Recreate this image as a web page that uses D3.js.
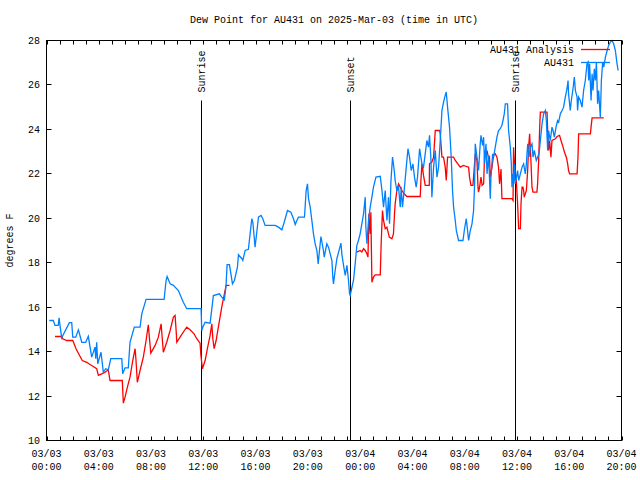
<!DOCTYPE html>
<html><head><meta charset="utf-8">
<script src="https://cdn.jsdelivr.net/npm/d3@7"></script>
<style>
body{margin:0;background:#fff}
text{font-family:"Liberation Mono","DejaVu Sans Mono",monospace;font-size:10px;fill:#000}
</style>
</head><body>
<svg id="chart" width="640" height="480"></svg>
<script>
const chartTitle = "Dew Point for AU431 on 2025-Mar-03 (time in UTC)";
const yAxisLabel = "degrees F";
const startTime = "2025-03-03T00:00:00Z";
const spanHours = 44;
const yTicks = [10, 12, 14, 16, 18, 20, 22, 24, 26, 28];
const seriesNames = ["AU431 Analysis", "AU431"];
const seriesColors = ["#ff0000", "#0080ff"];
const eventLabels = ["Sunrise", "Sunset", "Sunrise"];
const eventHours = [11.83, 23.19, 35.82];

// AU431 Analysis (hours since start, °F); null marks the data gap
const analysisHours = [
0.65,1.16,1.24,1.55,2.01,2.11,2.26,2.49,2.74,3.08,
3.33,3.58,3.84,3.97,4.23,4.48,4.73,4.86,5.80,5.88,
6.01,6.19,6.39,6.60,6.78,6.85,6.95,7.16,7.41,7.62,
7.79,7.87,7.98,8.31,8.56,8.77,8.87,8.94,9.20,9.46,
9.71,9.84,9.92,9.97,10.22,10.55,10.73,10.99,11.29,11.50,
11.75,11.81,11.93,12.14,12.31,12.52,12.65,12.73,12.83,12.98,
13.15,13.28,13.41,13.54,13.67,13.74,14.00,
18.00,
23.75,24.00,24.13,24.26,24.39,24.52,24.60,24.67,24.77,24.82,
24.90,25.02,25.15,25.54,25.61,25.71,25.79,25.92,26.05,26.23,
26.43,26.55,26.63,26.68,26.81,26.94,27.20,27.37,27.58,28.60,
28.65,28.73,28.85,28.98,29.29,29.31,29.49,29.62,29.75,30.08,
30.13,30.26,30.38,30.51,30.59,30.69,31.15,31.28,31.66,31.91,
32.12,32.30,32.37,32.48,32.63,32.68,32.81,32.94,33.02,33.06,
33.14,33.25,33.33,33.45,33.52,33.63,33.71,33.83,33.90,33.96,
34.09,34.21,34.34,34.47,34.59,34.67,34.78,34.85,35.62,35.70,
35.74,35.80,35.87,35.95,36.05,36.13,36.26,36.31,36.39,36.46,
36.51,36.56,36.72,36.82,36.89,36.97,37.08,37.15,37.23,37.53,
37.58,37.66,37.74,37.79,38.30,38.35,38.42,38.50,38.60,38.68,
38.94,39.07,39.26,39.37,39.53,39.63,39.78,39.88,39.95,40.03,
40.60,40.67,40.72,41.62,41.67,41.75,42.64];
const analysisValues = [
14.68,14.68,14.58,14.50,14.50,14.35,14.13,13.87,13.60,13.52,
13.42,13.33,13.23,12.93,13.00,13.07,13.18,12.70,12.70,11.68,
11.95,12.40,12.85,13.60,14.13,13.60,12.62,13.15,13.75,14.50,
15.21,14.65,13.93,14.28,14.65,15.25,14.50,13.97,14.42,14.95,
15.55,15.63,14.95,14.42,14.65,14.95,15.10,14.98,14.80,14.58,
14.38,13.87,13.23,13.60,14.13,14.73,15.25,14.58,14.13,14.50,
15.10,15.55,16.00,16.38,16.75,16.98,16.98,
null,
18.48,18.55,18.48,18.63,18.55,18.40,18.25,20.20,19.30,20.27,
17.12,17.35,17.45,17.45,18.88,20.35,19.90,19.53,19.60,19.15,
19.08,19.30,20.20,20.65,21.25,21.55,21.25,21.10,20.98,20.98,
21.70,22.45,21.93,21.48,21.48,22.45,22.53,22.75,23.95,23.95,
23.80,22.75,22.75,22.30,21.70,22.75,22.75,22.60,22.30,22.38,
22.33,22.30,21.85,21.48,21.48,21.85,22.90,22.60,21.40,21.18,
21.40,21.85,21.48,21.55,22.83,22.90,23.05,22.68,22.75,21.85,
22.30,22.83,22.90,22.75,22.30,21.55,22.22,20.88,20.88,20.80,
23.20,22.60,22.15,21.70,20.65,19.53,19.53,20.65,21.40,21.40,
21.25,20.95,21.25,22.15,23.20,23.80,22.45,21.40,21.18,21.18,
21.55,22.60,24.10,24.78,24.78,23.95,23.05,23.50,22.75,23.50,
23.58,23.68,23.73,23.50,23.20,22.98,22.75,22.45,22.15,22.00,
22.00,22.75,23.80,23.80,24.10,24.52,24.52];

// AU431 observations (hours since start, °F)
const obsHours = [
0.21,0.52,0.65,0.90,0.96,1.16,1.75,1.93,2.01,2.24,
2.44,2.70,3.00,3.20,3.46,3.71,3.77,3.84,3.92,4.17,
4.35,4.53,4.73,4.92,5.76,5.83,6.01,6.26,6.39,6.72,
7.16,7.29,7.62,9.00,9.15,9.23,9.46,9.71,10.09,10.47,
10.73,11.83,11.88,11.98,12.14,12.52,12.77,13.23,13.41,13.61,
13.74,13.82,14.00,14.23,14.38,14.61,14.69,14.95,15.02,15.20,
15.45,15.58,15.71,15.79,15.96,16.09,16.22,16.42,16.55,16.73,
17.50,17.75,18.01,18.19,18.44,18.70,18.90,19.03,19.16,19.28,
19.74,19.87,19.97,20.05,20.18,20.43,20.56,20.69,20.79,20.89,
21.00,21.19,21.25,21.45,21.58,21.84,21.91,21.96,22.09,22.22,
22.53,22.60,22.73,22.86,22.99,23.11,23.19,23.24,23.32,23.49,
23.62,23.75,23.87,24.00,24.13,24.26,24.39,24.44,24.52,24.64,
24.77,24.90,25.02,25.21,25.54,25.67,25.79,25.92,26.05,26.17,
26.25,26.36,26.48,26.61,26.68,26.81,26.94,27.07,27.14,27.24,
27.37,27.53,27.66,27.78,27.91,28.04,28.16,28.29,28.39,28.55,
28.65,28.73,28.85,28.98,29.11,29.23,29.31,29.42,29.49,29.62,
29.75,29.88,30.00,30.13,30.26,30.38,30.51,30.59,30.69,30.84,
30.97,31.07,31.15,31.28,31.36,31.53,31.87,31.97,32.12,32.22,
32.30,32.43,32.56,32.68,32.76,32.81,32.94,33.06,33.19,33.25,
33.37,33.45,33.52,33.63,33.71,33.83,33.96,34.01,34.14,34.21,
34.34,34.47,34.59,34.72,34.85,34.93,35.03,35.11,35.28,35.36,
35.49,35.57,35.62,35.70,35.74,35.80,35.85,35.95,36.05,36.13,
36.26,36.39,36.51,36.64,36.72,36.82,36.92,37.02,37.15,37.23,
37.33,37.48,37.58,37.69,37.79,37.92,38.04,38.17,38.25,38.35,
38.42,38.55,38.68,38.76,38.86,38.99,39.11,39.19,39.32,39.45,
39.57,39.70,39.83,39.91,39.95,40.08,40.16,40.29,40.39,40.47,
40.60,40.64,40.72,40.85,40.98,41.10,41.23,41.36,41.44,41.49,
41.56,41.67,41.75,41.82,41.92,42.00,42.08,42.17,42.25,42.38,
42.46,42.56,42.64,42.77,42.90,43.02,43.15,43.28,43.40,43.53,
43.66,43.74];
const obsValues = [
15.40,15.40,15.18,15.18,15.52,14.62,15.30,15.30,14.65,14.65,
14.98,14.42,14.42,14.69,13.75,14.20,13.68,14.42,13.45,13.97,
13.07,13.23,13.18,13.68,13.68,13.00,13.27,13.27,14.42,15.10,
15.10,15.70,16.35,16.35,17.20,17.38,17.05,16.98,16.75,16.22,
15.93,15.93,14.95,15.13,15.32,15.28,16.52,16.60,16.45,16.33,
16.98,17.91,17.91,17.05,17.20,17.80,18.36,18.18,18.10,18.55,
18.60,19.30,19.98,19.82,18.70,19.37,20.05,20.13,19.98,19.68,
19.68,19.60,19.48,19.82,20.35,20.27,19.98,19.72,19.90,20.05,
20.05,21.25,21.55,20.88,20.50,19.30,18.85,18.55,17.95,18.55,
19.18,18.55,18.25,18.85,18.70,18.10,17.35,17.05,17.65,18.18,
18.88,18.40,17.88,17.43,17.88,17.20,16.60,16.53,16.75,17.20,
17.95,18.78,19.00,19.30,19.75,20.20,20.95,19.60,18.85,19.90,
20.50,20.95,21.40,21.85,21.89,21.25,20.50,21.25,19.90,20.95,
19.75,21.70,22.75,22.15,21.70,21.25,21.40,20.50,21.40,20.50,
21.25,22.30,23.13,22.75,22.15,22.45,21.85,21.40,21.85,23.13,
22.75,22.45,22.30,22.90,23.50,23.20,23.73,22.60,20.95,22.30,
23.05,21.85,22.30,23.50,24.85,25.22,25.53,25.68,25.00,24.10,
22.75,21.25,20.50,19.90,19.45,19.00,19.00,19.45,19.98,19.45,
19.00,19.45,19.75,20.35,21.55,23.35,22.75,22.15,23.35,23.73,
23.28,23.65,22.45,23.35,22.00,22.83,20.88,21.85,22.90,22.75,
23.20,23.65,23.95,24.03,24.18,24.40,24.70,25.15,25.15,23.95,
23.20,22.45,21.40,22.00,21.70,22.45,21.55,21.78,22.15,21.70,
22.00,22.30,22.45,22.00,22.45,23.35,22.75,23.20,23.35,22.75,
23.05,22.60,22.75,22.90,23.50,24.25,24.70,24.85,24.40,23.05,
23.95,23.50,24.10,23.95,23.65,24.10,24.40,24.33,24.70,24.85,
25.00,25.45,25.83,26.20,25.60,24.85,25.30,25.83,26.35,25.75,
25.45,24.85,25.45,25.30,25.00,25.75,26.20,26.95,27.03,26.20,
26.95,25.30,26.50,25.75,26.73,26.20,27.03,25.15,25.75,24.55,
26.20,27.03,26.80,27.25,27.55,27.78,27.93,28.00,27.85,27.55,
26.95,26.65];

const svg = d3.select("#chart");
const t0 = new Date(startTime);
const toDate = h => new Date(t0.getTime() + h * 3600e3);
const tEnd = toDate(spanHours);

const pLeft = 46.5, pRight = 621.5, pTop = 40.5, pBottom = 440.5;
const x = d3.scaleUtc().domain([t0, tEnd]).range([pLeft, pRight]);
const y = d3.scaleLinear().domain([yTicks[0], yTicks[yTicks.length - 1]]).range([pBottom, pTop]);

// title
svg.append("text").attr("x", (pLeft + pRight) / 2).attr("y", 23)
  .attr("text-anchor", "middle").text(chartTitle);

// y label
svg.append("text").attr("transform", `translate(13,${(pTop + pBottom) / 2}) rotate(-90)`)
  .attr("text-anchor", "middle").text(yAxisLabel);

const g = svg.append("g");

// x ticks (hourly, bottom and top)
const hourTicks = x.ticks(d3.utcHour.every(1));
const px = d => Math.round(x(d)) + 0.5;
g.selectAll(".xtb").data(hourTicks).enter().append("line")
  .attr("x1", px).attr("x2", px)
  .attr("y1", pBottom).attr("y2", pBottom - 4).attr("stroke", "#000");
g.selectAll(".xtt").data(hourTicks).enter().append("line")
  .attr("x1", px).attr("x2", px)
  .attr("y1", pTop).attr("y2", pTop + 4).attr("stroke", "#000");

// x labels every 4 hours
const labelTicks = x.ticks(d3.utcHour.every(4));
const fDay = d3.utcFormat("%m/%d"), fTime = d3.utcFormat("%H:%M");
const xl = g.selectAll(".xl").data(labelTicks).enter().append("text")
  .attr("text-anchor", "middle");
xl.append("tspan").attr("x", d => x(d)).attr("y", 457).text(d => fDay(d));
xl.append("tspan").attr("x", d => x(d)).attr("y", 470).text(d => fTime(d));

// y ticks + labels
const py = d => Math.round(y(d) - 0.5) + 0.5;
g.selectAll(".ytl").data(yTicks).enter().append("line")
  .attr("x1", pLeft).attr("x2", pLeft + 5)
  .attr("y1", py).attr("y2", py).attr("stroke", "#000");
g.selectAll(".ytr").data(yTicks).enter().append("line")
  .attr("x1", pRight).attr("x2", pRight - 5)
  .attr("y1", py).attr("y2", py).attr("stroke", "#000");
g.selectAll(".yl").data(yTicks).enter().append("text")
  .attr("x", 40).attr("y", d => y(d)).attr("dy", "0.35em")
  .attr("text-anchor", "end").text(d => d);

// event lines (graph 0 to graph 0.85) and labels
const yFrac = f => pBottom + (pTop - pBottom) * f;
eventHours.forEach((h, i) => {
  const xp = Math.round(x(toDate(h))) + 0.5;
  g.append("line").attr("x1", xp).attr("x2", xp)
    .attr("y1", pBottom).attr("y2", yFrac(0.85)).attr("stroke", "#000").attr("stroke-width", 1);
  g.append("text").attr("transform", `translate(${xp},${yFrac(0.87)}) rotate(-90)`)
    .attr("dy", "0.35em").attr("text-anchor", "start").text(eventLabels[i]);
});

// series
const analysis = analysisHours.map((h, i) => ({ t: toDate(h), v: analysisValues[i] }));
const obs = obsHours.map((h, i) => ({ t: toDate(h), v: obsValues[i] }));
const line = d3.line().defined(d => d.v !== null).x(d => x(d.t)).y(d => y(d.v));

g.append("path").datum(analysis).attr("d", line)
  .attr("fill", "none").attr("stroke", seriesColors[0]).attr("stroke-width", 1.3);
g.append("path").datum(obs).attr("d", line)
  .attr("fill", "none").attr("stroke", seriesColors[1]).attr("stroke-width", 1.3);

// legend
seriesNames.forEach((name, i) => {
  const ly = 49.5 + i * 13;
  g.append("text").attr("x", 574).attr("y", ly).attr("dy", "0.35em")
    .attr("text-anchor", "end").text(name);
  g.append("line").attr("x1", 581).attr("x2", 610).attr("y1", ly).attr("y2", ly)
    .attr("stroke", seriesColors[i]).attr("stroke-width", 1.3);
});

// frame
svg.append("rect").attr("x", pLeft).attr("y", pTop)
  .attr("width", pRight - pLeft).attr("height", pBottom - pTop)
  .attr("fill", "none").attr("stroke", "#000").attr("stroke-width", 1);
</script>
</body></html>
